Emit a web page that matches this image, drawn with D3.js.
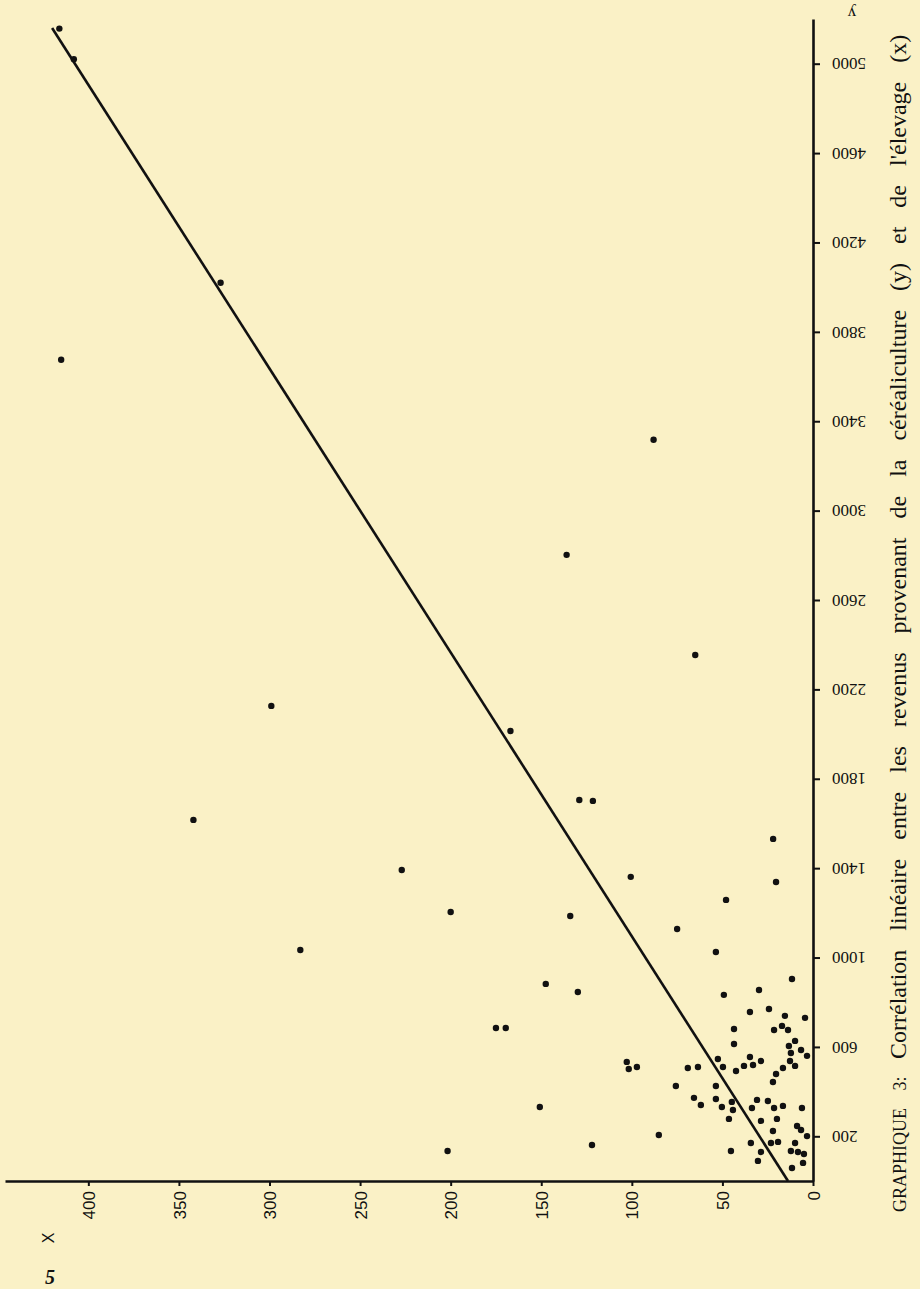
<!DOCTYPE html>
<html>
<head>
<meta charset="utf-8">
<script src="https://cdn.jsdelivr.net/npm/d3@7"></script>
<style>
  body { margin: 0; background: #faf1c6; }
  svg { display: block; }
  .axis path, .axis line { stroke: #111; }
  .axis text { fill: #111; }
</style>
</head>
<body>
<script>
var width = 920,
    height = 1289;

// élevage (x) and céréaliculture (y) values
var elevage = [
  416, 408, 327, 415, 299, 88, 136, 65, 342, 227, 283,
  167, 129, 121.5, 22, 100.6, 20.4, 200, 134, 48, 75, 53.6, 147.5, 129.8, 11.6, 49.2, 29.8,
  175, 169.6, 150.8, 122, 201.7,
  34.8, 24.3, 15.5, 4.4, 43.6, 21.5, 17.1, 13.8, 43.6, 9.9, 13.3, 6.6, 3.3, 12.2,
  52.5, 34.8, 28.7, 12.7, 49.7, 33.1, 38.1, 9.9, 42.5, 16.6, 20.4,
  102.8, 101.7, 97.2, 69.1, 63.5, 22.1, 75.7, 53.6, 65.7, 53.6, 61.9, 50.3, 44.8, 44.2,
  30.9, 24.9, 33.7, 21.5, 16.6, 6.1, 46.4, 28.7, 19.9, 22.1, 8.8, 6.6, 3.3, 85.1,
  34.3, 23.2, 19.3, 9.9, 45.3, 28.7, 12.2, 8.3, 5.0, 30.4, 5.5, 11.6
];
var cerealiculture = [
  5157, 5020, 4020, 3675, 2126, 3317, 2802, 2354, 1616, 1392, 1034,
  2014, 1705, 1701, 1531, 1361, 1338, 1204, 1186, 1258, 1128, 1025, 882, 846, 904, 833, 855,
  685, 685, 331, 161, 134,
  756, 770, 739, 730, 680, 676, 694, 676, 613, 627, 604, 586, 560, 573,
  546, 555, 537, 537, 510, 519, 515, 515, 492, 506, 479,
  533, 501, 510, 506, 510, 443, 425, 425, 372, 367, 340, 331, 354, 318,
  363, 358, 327, 327, 336, 327, 278, 269, 278, 224, 246, 228, 201, 206,
  170, 170, 175, 170, 134, 130, 134, 130, 121, 90, 81, 58
];

// regression line end points
var lineX = [13.8, 420];
var lineY = [0, 5160];

var xTicks = [0, 50, 100, 150, 200, 250, 300, 350, 400];
var yTicks = [200, 600, 1000, 1400, 1800, 2200, 2600, 3000, 3400, 3800, 4200, 4600, 5000];

var data = elevage.map(function(d, i) {
  return {x: d, y: cerealiculture[i]};
});

// the page is turned: élevage runs right to left, céréaliculture bottom to top
var x = d3.scaleLinear()
    .domain([0, 446])
    .range([813, 5]);

var y = d3.scaleLinear()
    .domain([0, 5200])
    .range([1181, 19]);

var svg = d3.select("body").append("svg")
    .attr("width", width)
    .attr("height", height);

svg.append("rect")
    .attr("width", width)
    .attr("height", height)
    .attr("fill", "#faf1c6");

var xAxis = d3.axisBottom(x)
    .tickValues(xTicks)
    .tickFormat(d3.format("d"))
    .tickSize(5)
    .tickSizeOuter(0);

var yAxis = d3.axisRight(y)
    .tickValues(yTicks)
    .tickFormat(d3.format("d"))
    .tickSize(7)
    .tickSizeOuter(0);

var gx = svg.append("g")
    .attr("class", "axis")
    .attr("transform", "translate(0," + y(0) + ")")
    .call(xAxis);

gx.select(".domain").attr("stroke-width", 2.4);
gx.selectAll(".tick line").attr("stroke-width", 2);
gx.selectAll(".tick text")
    .attr("transform", "rotate(-90)")
    .attr("x", -10)
    .attr("y", 0)
    .attr("dy", "0.36em")
    .style("text-anchor", "end")
    .style("font-family", "'Liberation Sans Narrow', 'Liberation Sans', Arial, sans-serif")
    .style("font-size", "17px");

var gy = svg.append("g")
    .attr("class", "axis")
    .attr("transform", "translate(" + x(0) + ",0)")
    .call(yAxis);

gy.select(".domain").attr("stroke-width", 2.6);
gy.selectAll(".tick line").attr("stroke-width", 2);
gy.selectAll(".tick text")
    .attr("transform", "rotate(180)")
    .attr("x", -19)
    .attr("y", 0)
    .attr("dy", "0.34em")
    .style("text-anchor", "end")
    .style("font-family", "'Liberation Serif', 'Times New Roman', serif")
    .style("font-size", "17px");

// regression line
svg.append("line")
    .attr("x1", x(lineX[0]))
    .attr("y1", y(lineY[0]))
    .attr("x2", x(lineX[1]))
    .attr("y2", y(lineY[1]))
    .attr("stroke", "#111")
    .attr("stroke-width", 2.6);

svg.selectAll(".dot")
    .data(data)
    .enter().append("circle")
    .attr("class", "dot")
    .attr("cx", function(d) { return x(d.x); })
    .attr("cy", function(d) { return y(d.y); })
    .attr("r", 3.2)
    .attr("fill", "#111");

// axis letters
svg.append("text")
    .attr("transform", "translate(852,13) rotate(180)")
    .attr("dy", "0.3em")
    .style("text-anchor", "middle")
    .style("font-family", "'Liberation Serif', serif")
    .style("font-size", "17px")
    .attr("fill", "#111")
    .text("y");

svg.append("text")
    .attr("transform", "translate(48,1238) rotate(-90)")
    .attr("dy", "0.35em")
    .style("text-anchor", "middle")
    .style("font-family", "'Liberation Sans', sans-serif")
    .style("font-size", "16px")
    .attr("fill", "#111")
    .text("X");

svg.append("text")
    .attr("x", 50)
    .attr("y", 1284)
    .style("text-anchor", "middle")
    .style("font-family", "'Liberation Serif', serif")
    .style("font-size", "20px")
    .style("font-weight", "bold")
    .style("font-style", "italic")
    .attr("fill", "#111")
    .text("5");

// caption, reading bottom to top
var caption = svg.append("text")
    .attr("transform", "translate(906,1212) rotate(-90)")
    .style("font-family", "'Liberation Serif', 'Times New Roman', serif")
    .style("font-size", "24px")
    .style("word-spacing", "13px")
    .attr("fill", "#111");

caption.append("tspan")
    .style("font-size", "18px")
    .text("GRAPHIQUE 3: ");

caption.append("tspan")
    .text("Corrélation linéaire entre les revenus provenant de la céréaliculture (y) et de l'élevage (x)");
</script>
</body>
</html>
